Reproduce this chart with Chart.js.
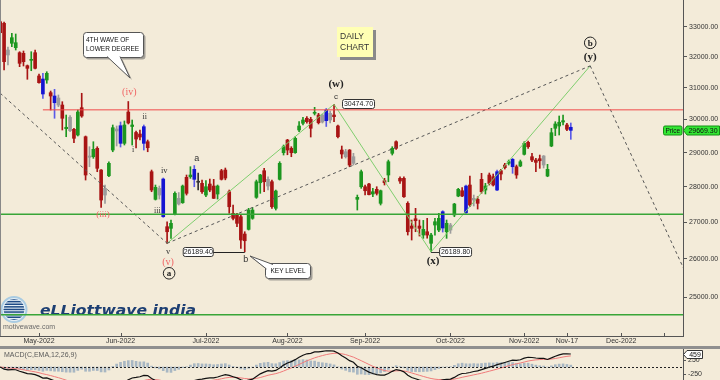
<!DOCTYPE html>
<html>
<head>
<meta charset="utf-8">
<script src="https://cdn.jsdelivr.net/npm/chart.js@4.4.0/dist/chart.umd.min.js"></script>
<style>
html, body { margin: 0; padding: 0; background: #f3ebd9; }
#wrap { position: relative; width: 720px; height: 380px; overflow: hidden; background: #f3ebd9; }
#main { position: absolute; left: 0; top: 0; }
#sep { position: absolute; left: 0; top: 346px; width: 720px; height: 3px; background: #8f8f8f; }
#macd { position: absolute; left: 0; top: 349px; }
</style>
</head>
<body>
<div id="wrap">
  <canvas id="main" width="720" height="346"></canvas>
  <div id="sep"></div>
  <canvas id="macd" width="720" height="31"></canvas>
</div>
<script>
// Daily candles, 18 Apr 2022 .. 18 Nov 2022
const opens = [
  33170, 33116, 32056, 32443, 32297, 32131, 32111, 31705, 31881, 32131,
  31372, 31275, 31243, 30839, 30734, 30671, 30451, 29720, 30070, 29701,
  29528, 30367, 29476, 28898, 28877, 29127, 28485, 27955, 28319, 29076,
  29650, 29277, 29277, 30233, 29787, 29604, 29558, 29276, 29325, 28436,
  27641, 27763, 28223, 26875, 26830, 27227, 27508, 27545, 28273, 28290,
  28214, 28130, 28099, 27763, 28079, 28021, 27792, 28465, 28485, 27858,
  27246, 27200, 27152, 26674, 26802, 27107, 27698, 28116, 28465, 28021,
  28145, 27387, 28214, 28996, 29376, 29127, 28996, 29680, 29885, 30039,
  30008, 30192, 30140, 29925, 29965, 29986, 30140, 29802, 29076, 28877,
  29076, 28682, 27641, 28001, 28001, 28079, 27792, 27926, 27528, 28174,
  28340, 28978, 29325, 28243, 28243, 27528, 26894, 27096, 26894, 26646,
  26737, 26421, 26922, 26783, 26839, 26737, 26783, 27200, 27735, 27886,
  28021, 28050, 27621, 27641, 28214, 27906, 28340, 28290, 27906, 28465,
  28632, 28682, 28582, 28582, 28603, 28948, 29307, 28877, 28779, 28818,
  28632, 28310, 29196, 29732, 29802, 29925, 29833, 29763
];
const highs = [
  33228, 33160, 32320, 32778, 32754, 32164, 32187, 31728, 32164, 32220,
  31436, 31459, 31510, 30892, 30946, 30766, 30555, 30140, 30125, 29732,
  30295, 30820, 29498, 29175, 29325, 29175, 28500, 28050, 28729, 29833,
  29802, 29925, 29956, 30561, 29986, 29650, 29680, 29833, 29376, 28485,
  28050, 28021, 28252, 27013, 27060, 27858, 27835, 28050, 28340, 28582,
  28617, 28398, 28194, 28180, 28223, 28214, 28050, 28506, 28544, 27906,
  27480, 27246, 27200, 26737, 27387, 27410, 28194, 28360, 28535, 28290,
  28194, 27906, 28729, 29226, 29397, 29175, 29476, 29934, 30070, 30094,
  30070, 30379, 30192, 30171, 30342, 30264, 30474.7, 29833, 29196, 29097,
  29090, 28978, 27763, 28485, 28050, 28099, 27955, 28001, 27906, 28243,
  28779, 29175, 29355, 28290, 28285, 27573, 27060, 27387, 27060, 27050,
  27107, 26692, 27107, 27246, 27320, 27060, 26968, 27528, 27955, 27978,
  28050, 28310, 27763, 27715, 28389, 28099, 28398, 28369, 28485, 28506,
  28682, 28779, 28829, 28632, 28779, 29325, 29346, 28978, 28829, 28927,
  28912, 28653, 29732, 29934, 30110, 30140, 29885, 29894
];
const lows = [
  32754, 31565, 31728, 32333, 32220, 31673, 31695, 31266, 31542, 31597,
  31138, 30660, 31138, 30295, 30039, 30398, 29680, 29476, 29628, 29295,
  29498, 30070, 28194, 28582, 28829, 28436, 27415, 27528, 28290, 29025,
  29196, 29166, 29226, 29864, 29226, 29136, 29376, 29076, 29025, 27858,
  27621, 27649, 27135, 26421, 26556, 27200, 27480, 27528, 27763, 28243,
  28001, 27906, 27812, 27715, 27858, 27664, 27649, 28194, 28200, 27246,
  27060, 26875, 26285, 26189.4, 26783, 27080, 27669, 27812, 27858, 27906,
  27387, 27339, 28194, 28927, 28935, 28877, 28978, 29628, 29833, 29885,
  29467, 30140, 29864, 29894, 29787, 29894, 29934, 29437, 28829, 28838,
  28582, 28632, 27339, 27955, 27763, 27770, 27715, 27763, 27480, 28050,
  28145, 28927, 29097, 28099, 27698, 26646, 26510, 26737, 26619, 26556,
  26560, 26189.8, 26646, 26737, 26728, 26556, 26692, 27152, 27715, 27720,
  27246, 27432, 27452, 27367, 27812, 27792, 28050, 28021, 27886, 28194,
  28514, 28632, 28389, 28243, 28582, 28927, 29127, 28729, 28436, 28535,
  28544, 28290, 29175, 29510, 29528, 29833, 29659, 29397
];
const closes = [
  32798, 31836, 32220, 32630, 32463, 31783, 31836, 31620, 31914, 31620,
  31157, 30798, 31459, 30734, 30523, 30451, 30039, 29763, 29659, 29428,
  30233, 30110, 28340, 28859, 29097, 28535, 27621, 27763, 28682, 29750,
  29711, 29811, 29833, 29894, 29833, 29406, 29467, 29781, 29145, 27906,
  27984, 27955, 27152, 26737, 26968, 27812, 27669, 28021, 27812, 28340,
  28506, 28130, 27858, 28001, 27906, 27669, 28021, 28214, 28252, 27432,
  27107, 26968, 26510, 26491, 27339, 27339, 28145, 28340, 28145, 28214,
  27432, 27878, 28682, 29175, 29076, 28996, 29428, 29802, 29986, 29934,
  29732, 30223, 29903, 30140, 30295, 30192, 30088, 29476, 28957, 29025,
  28632, 28877, 27698, 28436, 27886, 27775, 27858, 27812, 27886, 28116,
  28729, 29127, 29127, 28165, 27715, 26737, 26830, 27041, 26830, 26802,
  26646, 26646, 27013, 27107, 27292, 26968, 26922, 27508, 27926, 27735,
  27263, 27480, 27669, 27528, 27858, 28021, 28099, 28050, 28436, 28369,
  28553, 28729, 28800, 28340, 28729, 29277, 29175, 28779, 28711, 28758,
  28898, 28506, 29598, 29864, 29916, 29965, 29701, 29669.3
];

const firstDay = '2022-04-18';
const holidays = ['2022-05-03', '2022-08-09', '2022-08-15', '2022-08-31', '2022-10-05', '2022-10-26', '2022-11-08'];

const tickDates = ['2022-05-02', '2022-06-01', '2022-07-01', '2022-08-01', '2022-09-01', '2022-10-03', '2022-11-01', '2022-11-17', '2022-12-01', '2022-12-12'];
const tickLabels = ['May-2022', 'Jun-2022', 'Jul-2022', 'Aug-2022', 'Sep-2022', 'Oct-2022', 'Nov-2022', 'Nov-17', 'Dec-2022', ''];
const priceTicks = [25000, 26000, 27000, 28000, 29000, 30000, 31000, 32000, 33000];
const macdTicks = [-250, 250];

// levels and wave points
const redLevel = 30300;
const greenLevels = [27220, 24550];
const startValue = 30823;          // dashed trend line value at the left edge
const projDates = ['2022-11-23', '2022-12-17'];
const projValues = [31700, 25760]; // (y) target and the drop after it
const waveA = 43, waveB = 63, waveW = 86, waveX = 111;
const macdLast = 459;

const X_MIN = -0.05, X_MAX = 175.9;
const Y_MIN = 24023, Y_MAX = 33917;

function tradingDays(start, n, hol) {
  const out = [];
  const d = new Date(start + 'T00:00:00Z');
  while (out.length < n) {
    const s = d.toISOString().slice(0, 10);
    const wd = d.getUTCDay();
    if (wd !== 0 && wd !== 6 && !hol.includes(s)) out.push(s);
    d.setUTCDate(d.getUTCDate() + 1);
  }
  return out;
}
const days = tradingDays(firstDay, closes.length, holidays);
function idxOf(date) {
  const k = days.indexOf(date);
  if (k >= 0) return k;
  const last = days.length - 1;
  return last + Math.round((Date.parse(date) - Date.parse(days[last])) / 86400000);
}
const tickIdx = tickDates.map(idxOf);
const projIdx = projDates.map(idxOf);

const RED = '#a81414', GREEN = '#1c961f', BLUE = '#1414d2', GREY = '#9c9c9c', DOJI = '#333';
const bodyColors = closes.map((c, i) => {
  const o = opens[i];
  if (o === c) return DOJI;
  if (i > 0) {
    if (highs[i] < highs[i - 1] && lows[i] > lows[i - 1]) return GREY;
    if (highs[i] > highs[i - 1] && lows[i] < lows[i - 1]) return BLUE;
  }
  return c > o ? GREEN : RED;
});
const wickColors = bodyColors.map(c => c === BLUE ? '#5a5ae8' : c);

// MACD(12,26,9) from the closes
function ema(arr, n) {
  const k = 2 / (n + 1);
  const out = [];
  arr.forEach((v, i) => out.push(i ? v * k + out[i - 1] * (1 - k) : v));
  return out;
}
const e12 = ema(closes, 12), e26 = ema(closes, 26);
const macd = e12.map((v, i) => v - e26[i]);
const signal = ema(macd, 9);
const hist = macd.map((v, i) => v - signal[i]);

const SANS = '"Liberation Sans", Arial, sans-serif';
const SERIF = '"Liberation Serif", "DejaVu Serif", serif';
const RED_T = '#f06464';

function txt(ctx, s, x, y, font, color, align) {
  ctx.font = font;
  ctx.fillStyle = color;
  ctx.textAlign = align || 'center';
  ctx.textBaseline = 'middle';
  ctx.fillText(s, x, y);
}
function circled(ctx, s, x, y) {
  ctx.beginPath();
  ctx.arc(x, y, 5.8, 0, Math.PI * 2);
  ctx.strokeStyle = '#222';
  ctx.lineWidth = 1;
  ctx.stroke();
  txt(ctx, s, x, y + 0.5, 'bold 9px ' + SERIF, '#222');
}
function valueBox(ctx, s, x, yc, w) {
  ctx.beginPath();
  ctx.roundRect(x + 0.5, Math.round(yc - 4.5) + 0.5, w, 9, 2);
  ctx.fillStyle = '#fff';
  ctx.fill();
  ctx.strokeStyle = '#333';
  ctx.lineWidth = 1;
  ctx.stroke();
  txt(ctx, s, x + w / 2 + 0.5, Math.round(yc - 4.5) + 5, '7px ' + SANS, '#222');
}
function callout(ctx, x, y, w, h, tail) {
  const shape = (dx, dy) => {
    ctx.beginPath();
    ctx.roundRect(x + dx, y + dy, w, h, 3);
    ctx.moveTo(tail[0][0] + dx, tail[0][1] + dy);
    ctx.lineTo(tail[1][0] + dx, tail[1][1] + dy);
    ctx.lineTo(tail[2][0] + dx, tail[2][1] + dy);
    ctx.closePath();
  };
  ctx.fillStyle = 'rgba(100,100,100,0.55)';
  shape(2, 2); ctx.fill();
  ctx.fillStyle = '#fff';
  ctx.beginPath(); ctx.roundRect(x, y, w, h, 3); ctx.fill();
  ctx.strokeStyle = '#555'; ctx.lineWidth = 1; ctx.stroke();
  ctx.beginPath();
  ctx.moveTo(tail[0][0], tail[0][1]); ctx.lineTo(tail[1][0], tail[1][1]); ctx.lineTo(tail[2][0], tail[2][1]);
  ctx.closePath(); ctx.fill();
  ctx.beginPath();
  ctx.moveTo(tail[0][0], tail[0][1]); ctx.lineTo(tail[1][0], tail[1][1]); ctx.lineTo(tail[2][0], tail[2][1]);
  ctx.stroke();
}
function drawLogo(ctx) {
  const cx = 14, cy = 309.5, r = 12.5;
  ctx.save();
  ctx.beginPath(); ctx.arc(cx, cy, r, 0, Math.PI * 2);
  ctx.fillStyle = '#e4eef5'; ctx.fill();
  ctx.strokeStyle = '#a9cbe2'; ctx.lineWidth = 2; ctx.stroke();
  ctx.beginPath(); ctx.arc(cx, cy, r - 2, 0, Math.PI * 2); ctx.clip();
  ctx.fillStyle = '#1f4b86';
  for (let k = -4; k <= 4; k++) ctx.fillRect(cx - r, cy + k * 2.6 - 0.8, r * 2, 1.5);
  ctx.restore();
  ctx.save();
  ctx.font = 'bold italic 14px "DejaVu Sans"';
  const s = 'eLLiottwave india';
  const w = ctx.measureText(s).width;
  ctx.translate(40, 314.5);
  ctx.scale(156 / w, 1.05);
  ctx.fillStyle = '#1d3f73';
  ctx.textAlign = 'left';
  ctx.textBaseline = 'alphabetic';
  ctx.fillText(s, 0, 0);
  ctx.restore();
  txt(ctx, 'motivewave.com', 3, 327.5, '7px ' + SANS, '#6a6a6a', 'left');
}

const annotations = {
  id: 'annotations',
  beforeDatasetsDraw(chart) {
    drawLogo(chart.ctx);
  },
  afterDraw(chart) {
    const ctx = chart.ctx, xs = chart.scales.x, ys = chart.scales.y;
    const px = i => xs.getPixelForValue(i), py = v => ys.getPixelForValue(v);
    const area = chart.chartArea;
    ctx.save();

    // left border and inward x ticks
    ctx.strokeStyle = '#888'; ctx.lineWidth = 1;
    ctx.beginPath(); ctx.moveTo(0.5, 0); ctx.lineTo(0.5, area.bottom); ctx.stroke();
    ctx.strokeStyle = '#555';
    tickIdx.forEach(t => {
      const x = Math.round(px(t)) + 0.5;
      ctx.beginPath(); ctx.moveTo(x, area.bottom - 3); ctx.lineTo(x, area.bottom); ctx.stroke();
    });

    // wave labels
    txt(ctx, '(iv)', px(33) + 1, py(highs[33]) - 9, '10px ' + SERIF, RED_T);
    txt(ctx, '(iii)', px(26) + 2, py(lows[26]) + 7, '9px ' + SERIF, RED_T);
    txt(ctx, 'i', px(34) + 1, py(lows[34]) + 5, '8px ' + SERIF, '#333');
    txt(ctx, 'ii', px(37) + 1, py(highs[37]) - 8, '8px ' + SERIF, '#333');
    txt(ctx, 'iii', px(41) - 2, py(lows[41]) + 12, '8px ' + SERIF, '#333');
    txt(ctx, 'iv', px(42) + 1, py(highs[42]) - 7, '8.5px ' + SERIF, '#333');
    txt(ctx, 'v', px(waveA) + 1, py(lows[waveA]) + 8, '8.5px ' + SERIF, '#333');
    txt(ctx, '(v)', px(waveA) + 1, py(lows[waveA]) + 19, '10px ' + SERIF, RED_T);
    circled(ctx, 'a', px(waveA) + 2, py(lows[waveA]) + 30);
    txt(ctx, 'a', px(50) + 2.5, py(highs[50]) - 7.5, '9px ' + SANS, '#333');
    txt(ctx, 'b', px(waveB) + 1, py(lows[waveB]) + 7.5, '9px ' + SANS, '#333');
    txt(ctx, 'c', px(waveW) + 2, py(highs[waveW]) - 7, '8px ' + SANS, '#333');
    txt(ctx, '(w)', px(waveW) + 2, py(highs[waveW]) - 20, 'bold 11px ' + SERIF, '#222');
    txt(ctx, '(x)', px(waveX) + 2, py(lows[waveX]) + 9.5, 'bold 11px ' + SERIF, '#222');
    const yx = px(projIdx[0]), yy = py(projValues[0]);
    circled(ctx, 'b', yx, yy - 23);
    txt(ctx, '(y)', yx, yy - 9, 'bold 11px ' + SERIF, '#222');

    // price boxes
    const bY = py(lows[waveB]);
    ctx.strokeStyle = '#222'; ctx.lineWidth = 1;
    ctx.beginPath(); ctx.moveTo(px(waveB) - 32, Math.round(bY) + 0.5); ctx.lineTo(px(waveB), Math.round(bY) + 0.5); ctx.stroke();
    valueBox(ctx, lows[waveB].toFixed(2), px(waveB) - 62, bY, 30);
    const xY = py(lows[waveX]);
    ctx.beginPath(); ctx.moveTo(px(waveX), Math.round(xY) + 0.5); ctx.lineTo(px(waveX) + 8, Math.round(xY) + 0.5); ctx.stroke();
    valueBox(ctx, lows[waveX].toFixed(2), px(waveX) + 8, xY, 32);
    valueBox(ctx, highs[waveW].toFixed(2), px(waveW) + 8, py(highs[waveW]) - 0.5, 32);

    // callouts
    callout(ctx, 83.5, 32.5, 60, 25, [[107, 56.5], [130, 78], [120, 56.5]]);
    txt(ctx, '4TH WAVE OF', 86, 40, '6.5px ' + SANS, '#111', 'left');
    txt(ctx, 'LOWER DEGREE', 86, 49, '6.5px ' + SANS, '#111', 'left');
    callout(ctx, 265.5, 263.5, 45, 15, [[266.5, 269], [250, 256], [273, 264.5]]);
    txt(ctx, 'KEY LEVEL', 288, 271.5, '6.5px ' + SANS, '#111');

    // daily chart note
    ctx.fillStyle = '#8a8a8a'; ctx.fillRect(340, 30, 36, 30);
    ctx.fillStyle = '#ffffb4'; ctx.fillRect(337, 27, 36, 30);
    txt(ctx, 'DAILY', 340, 37, '8.5px ' + SANS, '#333', 'left');
    txt(ctx, 'CHART', 340, 47.5, '8.5px ' + SANS, '#333', 'left');

    // price tag
    const last = closes.length - 1;
    const pY = Math.round(py(closes[last])) + 0.5;
    ctx.strokeStyle = '#159015';
    ctx.fillStyle = '#33e633';
    ctx.beginPath(); ctx.roundRect(663.5, pY - 4.5, 18.5, 9, 1.5); ctx.fill(); ctx.stroke();
    txt(ctx, 'Price', 672.8, pY + 0.5, '6.5px ' + SANS, '#111');
    ctx.fillStyle = '#33e633';
    ctx.beginPath();
    ctx.moveTo(683.5, pY); ctx.lineTo(687, pY - 4.5); ctx.lineTo(719.5, pY - 4.5);
    ctx.lineTo(719.5, pY + 4.5); ctx.lineTo(687, pY + 4.5); ctx.closePath();
    ctx.fill(); ctx.stroke();
    txt(ctx, closes[last].toFixed(2), 703, pY + 0.5, '7px ' + SANS, '#111');
    ctx.restore();
  }
};

function lineSet(points, color, width, dash) {
  return {
    type: 'line', data: points, borderColor: color, borderWidth: width,
    borderDash: dash || [], pointRadius: 0, fill: false, tension: 0, order: 1
  };
}

const A = { x: waveA, y: lows[waveA] }, W = { x: waveW, y: highs[waveW] }, Xp = { x: waveX, y: lows[waveX] };
const Y1 = { x: projIdx[0], y: projValues[0] }, Y2 = { x: projIdx[1], y: projValues[1] };

new Chart(document.getElementById('main'), {
  type: 'bar',
  data: {
    datasets: [
      lineSet([{ x: 11, y: redLevel }, { x: X_MAX, y: redLevel }], '#f04a4a', 1),
      lineSet([{ x: X_MIN, y: greenLevels[0] }, { x: X_MAX, y: greenLevels[0] }], '#38a538', 1.5),
      lineSet([{ x: X_MIN, y: greenLevels[1] }, { x: X_MAX, y: greenLevels[1] }], '#38a538', 1.5),
      lineSet([{ x: 0, y: startValue }, A], '#555', 1, [3, 3]),
      lineSet([A, Y1], '#555', 1, [3, 3]),
      lineSet([Y1, Y2], '#555', 1, [3, 3]),
      lineSet([A, W, Xp, Y1], '#7fce6e', 1),
      {
        type: 'bar', data: opens.map((o, i) => ({ x: i, y: [o, closes[i]] })),
        backgroundColor: bodyColors, barThickness: 3, minBarLength: 1, grouped: false, order: 2
      },
      {
        type: 'bar', data: lows.map((l, i) => ({ x: i, y: [l, highs[i]] })),
        backgroundColor: wickColors, barThickness: 1, grouped: false, order: 3
      }
    ]
  },
  options: {
    responsive: false, animation: false, devicePixelRatio: 1, events: [],
    layout: { padding: 0 },
    plugins: { legend: { display: false }, tooltip: { enabled: false } },
    scales: {
      x: {
        type: 'linear', min: X_MIN, max: X_MAX, bounds: 'data', offset: false,
        afterBuildTicks: ax => { ax.ticks = tickIdx.map(v => ({ value: v })); },
        afterFit: ax => { ax.height = 10; ax.paddingLeft = 0; ax.paddingRight = 0; },
        ticks: {
          autoSkip: false, maxRotation: 0, padding: 1, color: '#333',
          font: { family: 'Liberation Sans', size: 7 },
          callback: (v, i) => tickLabels[i]
        },
        grid: { display: false, drawTicks: false },
        border: { display: true, color: '#555', width: 1 }
      },
      y: {
        type: 'logarithmic', position: 'right', min: Y_MIN, max: Y_MAX, bounds: 'data',
        afterBuildTicks: ax => { ax.ticks = priceTicks.map(v => ({ value: v })); },
        afterFit: ax => { ax.width = 37; ax.paddingTop = 0; ax.paddingBottom = 0; },
        ticks: {
          autoSkip: false, padding: 2, color: '#333',
          font: { family: 'Liberation Sans', size: 7 },
          callback: v => Number(v).toFixed(2)
        },
        grid: { drawOnChartArea: false, drawTicks: true, tickLength: 4, color: '#555' },
        border: { display: true, color: '#555', width: 1 }
      }
    }
  },
  plugins: [annotations]
});

const macdDecor = {
  id: 'macdDecor',
  afterDraw(chart) {
    const ctx = chart.ctx, ys = chart.scales.y, area = chart.chartArea;
    ctx.save();
    const z = Math.round(ys.getPixelForValue(0)) + 0.5;
    ctx.strokeStyle = '#222'; ctx.lineWidth = 1; ctx.setLineDash([2, 2]);
    ctx.beginPath(); ctx.moveTo(0, z); ctx.lineTo(area.right, z); ctx.stroke();
    ctx.setLineDash([]);
    txt(ctx, 'MACD(C,EMA,12,26,9)', 4, 6.5, '7px ' + SANS, '#5a5a5a', 'left');
    const t = Math.round(ys.getPixelForValue(macdLast)) + 0.5;
    ctx.fillStyle = '#fff'; ctx.strokeStyle = '#333';
    ctx.beginPath();
    ctx.moveTo(683.5, t); ctx.lineTo(687, t - 4); ctx.lineTo(702.5, t - 4);
    ctx.lineTo(702.5, t + 4); ctx.lineTo(687, t + 4); ctx.closePath();
    ctx.fill(); ctx.stroke();
    txt(ctx, String(macdLast), 695, t + 0.5, '7px ' + SANS, '#111');
    ctx.restore();
  }
};

new Chart(document.getElementById('macd'), {
  type: 'bar',
  data: {
    datasets: [
      { type: 'line', data: macd.map((v, i) => ({ x: i, y: v })), borderColor: '#111', borderWidth: 1.2, pointRadius: 0, order: 1 },
      { type: 'line', data: signal.map((v, i) => ({ x: i, y: v })), borderColor: '#f07a7a', borderWidth: 1, pointRadius: 0, order: 2 },
      { type: 'bar', data: hist.map((v, i) => ({ x: i, y: v })), backgroundColor: '#a8b7c3', barThickness: 2, grouped: false, order: 3 }
    ]
  },
  options: {
    responsive: false, animation: false, devicePixelRatio: 1, events: [],
    layout: { padding: 0 },
    plugins: { legend: { display: false }, tooltip: { enabled: false } },
    scales: {
      x: { type: 'linear', min: X_MIN, max: X_MAX, bounds: 'data', offset: false, display: false },
      y: {
        position: 'right', min: -464, max: 643, bounds: 'data',
        afterBuildTicks: ax => { ax.ticks = macdTicks.map(v => ({ value: v })); },
        afterFit: ax => { ax.width = 37; ax.paddingTop = 0; ax.paddingBottom = 0; },
        ticks: { autoSkip: false, padding: 2, color: '#333', font: { family: 'Liberation Sans', size: 7 } },
        grid: { drawOnChartArea: false, drawTicks: true, tickLength: 3, color: '#555' },
        border: { display: true, color: '#555', width: 1 }
      }
    }
  },
  plugins: [macdDecor]
});
</script>
</body>
</html>
